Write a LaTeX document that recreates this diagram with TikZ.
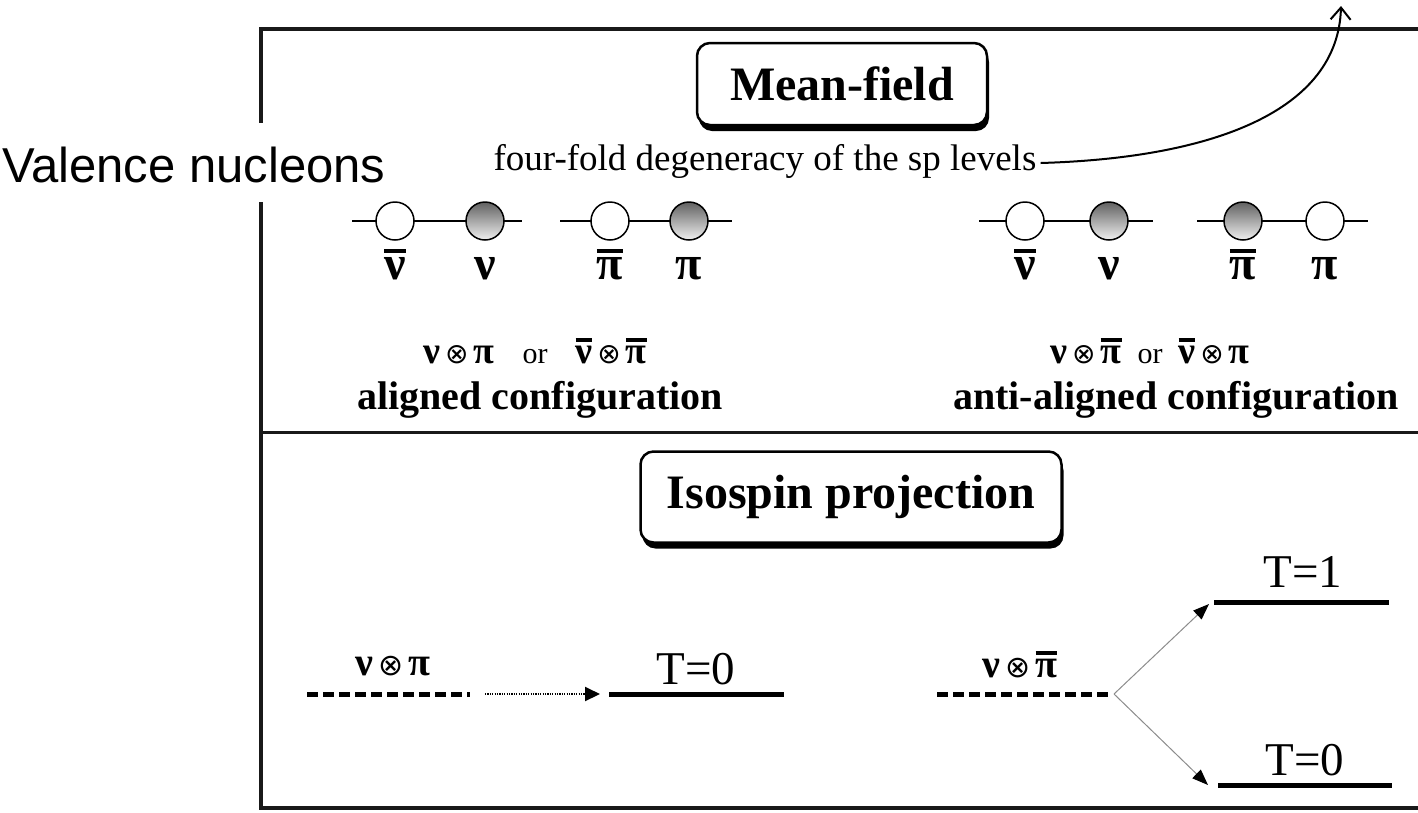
\documentclass[tikz,border=0pt]{standalone}
\usepackage{fontspec}
\setmainfont{Liberation Serif}
\newfontfamily\valfont{Liberation Sans}
\newfontfamily\symf{DejaVu Sans}
\usetikzlibrary{arrows.meta,shadows,calc}
\newcommand\ovl[1]{\vbox{\hrule height 3.5pt\kern 4pt\hbox{#1}}}
\newcommand\fs[1]{\fontsize{#1}{#1}\selectfont}
\newcommand\ot[1]{\hspace{5pt}{\symf\mdseries\fs{#1}⊗}\hspace{5pt}}
\begin{document}
\begin{tikzpicture}[x=1pt,y=-1pt,
  frame/.style={line width=4pt,black!90},
  titlebox/.style={draw=black,line width=2.5pt,rounded corners=13pt,fill=white,inner sep=0pt,
     font=\fs{48}\bfseries,
     drop shadow={shadow xshift=2pt,shadow yshift=-6pt,fill=black,opacity=1}},
  lvl/.style={line width=1.6pt},
  nuc/.style={circle,draw,line width=1.5pt,minimum size=38pt,inner sep=0pt,fill=white},
  nucg/.style={nuc,top color=black!62,bottom color=black!6},
  glab/.style={anchor=base,font=\fs{48}\bfseries,inner sep=0pt},
  conf/.style={anchor=base,font=\fs{40}\bfseries,inner sep=0pt},
  prod/.style={anchor=base,font=\fs{38}\bfseries,inner sep=0pt},
  tlab/.style={anchor=base,font=\fs{47},inner sep=0pt},
  dlev/.style={line width=5pt,dash pattern=on 11pt off 5pt},
  slev/.style={line width=5pt},
  branch/.style={line width=1pt,black!45,-{Triangle[length=16pt,width=12pt,color=black]}}
]
\useasboundingbox (0,0) rectangle (1418,812);
\clip (0,0) rectangle (1418,812);

% frame
\draw[frame] (1440,29) -- (261,29) -- (261,123);
\draw[frame] (261,202) -- (261,808) -- (1440,808);
\draw[line width=3pt,black!90] (261,432) -- (1440,432);

\node[anchor=base west,inner sep=0pt,font=\valfont\fs{49}] (val) at (2,182) {Valence nucleons};

% Mean-field
\node[titlebox,minimum width=290pt,minimum height=82pt] (mf) at (842,84) {Mean-field};
\node[anchor=base,inner sep=0pt,font=\fs{37}] (ff) at (765,170) {four-fold degeneracy of the sp levels};
\coordinate (tip) at (1341,6);
\draw[line width=2pt,-{Straight Barb[length=12pt,width=20pt]}] ($(ff.base east)+(4,-7)$) .. controls (1215,158) and (1338,110) .. (tip);

% level rows
\foreach \nm/\xa/\xb in {ga/352/522, gb/560/732, gc/979/1153, gd/1197/1368}{
  \coordinate (\nm1) at (\xa,221); \coordinate (\nm2) at (\xb,221);
  \draw[lvl] (\nm1) -- (\nm2);
}
\node[nuc]  (c1) at (395,221) {};
\node[nucg] (c2) at (485,221) {};
\node[nuc]  (c3) at (610,221) {};
\node[nucg] (c4) at (689,221) {};
\node[nuc]  (c5) at (1025,221) {};
\node[nucg] (c6) at (1109,221) {};
\node[nucg] (c7) at (1243,221) {};
\node[nuc]  (c8) at (1325,221) {};

\node[glab] (l1) at (395,279) {\ovl{ν}};
\node[glab] (l2) at (485,279) {ν};
\node[glab] (l3) at (610,279) {\ovl{π}};
\node[glab] (l4) at (689,279) {π};
\node[glab] (l5) at (1025,279) {\ovl{ν}};
\node[glab] (l6) at (1109,279) {ν};
\node[glab] (l7) at (1243,279) {\ovl{π}};
\node[glab] (l8) at (1325,279) {π};

\node[prod] (pa) at (535,363) {ν\ot{28}π\hspace{28pt}{\mdseries\fs{30}or}\hspace{28pt}\ovl{ν}\ot{28}\ovl{π}};
\node[conf] (ca) at (540,409) {aligned configuration};
\node[prod] (pb) at (1150,363) {ν\ot{28}\ovl{π}\hspace{16pt}{\mdseries\fs{30}or}\hspace{16pt}\ovl{ν}\ot{28}π};
\node[conf] (cb) at (1176,409) {anti-aligned configuration};

% Isospin
\node[titlebox,minimum width=421pt,minimum height=91pt] (iso) at (851,497) {Isospin projection};

% bottom left
\node[prod,font=\fs{40}\bfseries] (na) at (393,675) {ν\ot{30}π};
\coordinate (d1a) at (307,694); \coordinate (d1b) at (470,694);
\draw[dlev] (d1a) -- (d1b);
\coordinate (ar1a) at (485,694); \coordinate (t0a) at (609,694); \coordinate (t0b) at (784,694);
\draw[line width=2pt,dash pattern=on 1.2pt off 1.2pt,-{Triangle[length=15pt,width=14pt]}] (ar1a) -- ($(t0a)+(-9,0)$);
\draw[slev] (t0a) -- (t0b);
\node[tlab] (T0a) at (696,684) {T=0};

% bottom right
\node[prod,font=\fs{40}\bfseries] (nb) at (1020,677) {ν\ot{30}\ovl{π}};
\coordinate (d2a) at (937,694); \coordinate (d2b) at (1108,694);
\draw[dlev] (d2a) -- (d2b);
\coordinate (sp) at (1114,694);
\coordinate (t1a) at (1214,602); \coordinate (t1b) at (1389,602);
\coordinate (t0c) at (1218,785); \coordinate (t0d) at (1392,785);
\draw[slev] (t1a) -- (t1b);
\draw[slev] (t0c) -- (t0d);
\draw[branch] (sp) -- ($(t1a)+(-5,2)$);
\draw[branch] (sp) -- ($(t0c)+(-10,0)$);
\node[tlab] (T1) at (1303,587) {T=1};
\node[tlab] (T0b) at (1305,775) {T=0};
\end{tikzpicture}
\end{document}
